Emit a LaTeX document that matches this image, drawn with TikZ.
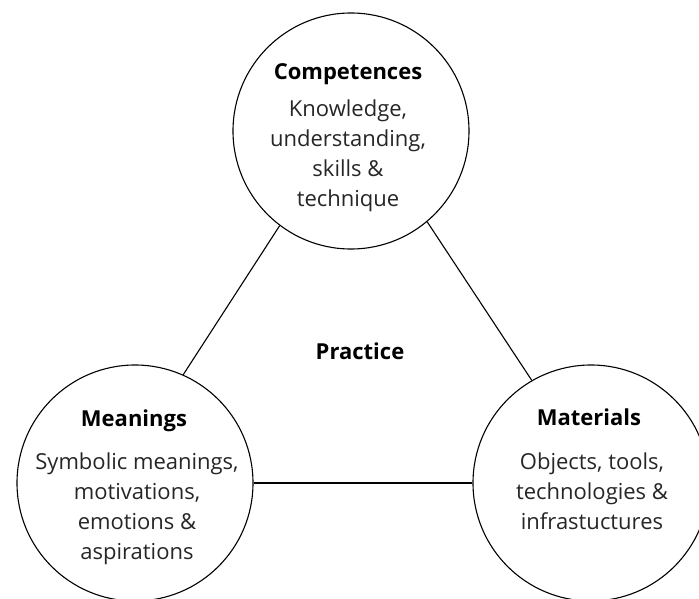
\documentclass[tikz,border=0pt]{standalone}
\usepackage{fontspec}
\setmainfont{Open Sans}
\usetikzlibrary{positioning}

\begin{document}
\begin{tikzpicture}[x=1pt, y=-1pt,
  bubble/.style={draw, circle, line width=1.1pt, minimum size=236pt, inner sep=0pt},
  link/.style={line width=1.1pt},
  head/.style={font=\fontsize{22}{30}\selectfont\bfseries, anchor=base},
  body/.style={font=\fontsize{22}{30}\selectfont, align=center, anchor=base, text=black!85}]
\useasboundingbox (0,0) rectangle (699,599);

\node[bubble] (comp) at (351,131) {};
\node[bubble] (mean) at (135,483) {};
\node[bubble] (mat) at (591,483) {};

\draw[link] (comp.233) -- (mean.66);
\draw[link] (comp.-50) -- (mat.120);
\draw[link] (mean) -- (mat);

% text baselines (last line for the multi-line nodes)
\node[head] (comphead) at (348,80) {Competences};
\node[body] (comptext) at (348,207) {Knowledge,\\ understanding,\\ skills \&\\ technique};

\node[head] (meanhead) at (134,426) {Meanings};
\node[body] (meantext) at (137,559) {Symbolic meanings,\\ motivations,\\ emotions \&\\ aspirations};

\node[head] (mathead) at (589,425) {Materials};
\node[body] (mattext) at (592,529) {Objects, tools,\\ technologies \&\\ infrastuctures};

\node[head] (practice) at (360,359) {Practice};
\end{tikzpicture}
\end{document}
